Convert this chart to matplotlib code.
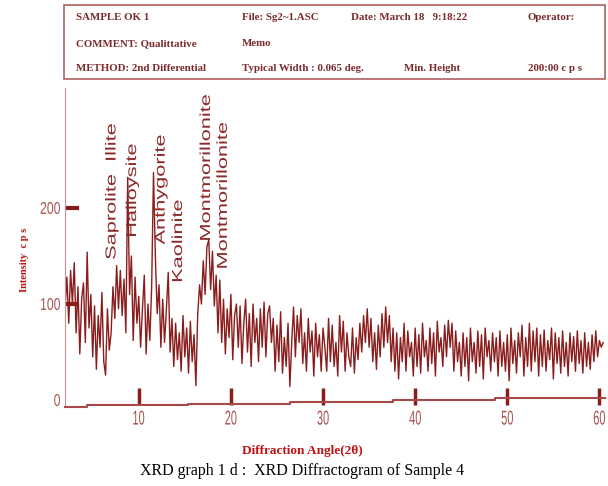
import numpy as np
import matplotlib.pyplot as plt
from matplotlib.patches import Rectangle, PathPatch
from matplotlib.textpath import TextPath
from matplotlib.font_manager import FontProperties
from matplotlib.transforms import Affine2D

# scan angle 2-theta, 0.2 deg steps
angle = np.round(np.arange(2.0, 60.41, 0.2), 1)
intensity = [
    95, 128, 80, 135, 100,   143, 70, 118, 48, 105,
    122, 60, 154, 75, 110,   45, 98, 32, 88, 55,
    112, 40, 26, 95, 52,     70, 118, 85, 140, 95,
    135, 88, 126, 70, 232,   110, 150, 62, 128, 80,
    108, 55, 95, 130, 48,    100, 62, 118, 237, 150,
    90, 120, 55, 105, 60,    95, 133, 50, 85, 35,
    80, 42, 70, 30, 88,      45, 75, 28, 82, 40,
    68, 15, 90, 120, 100,    145, 110, 160, 167, 115,
    155, 98, 130, 70, 125,   60, 105, 48, 95, 65,
    110, 42, 88, 100, 55,    98, 38, 80, 105, 50,
    90, 35, 100, 60, 85,     40, 95, 55, 102, 45,
    90, 98, 60, 85, 30,      78, 40, 92, 28, 65,
    35, 80, 14, 60, 97,      45, 88, 60, 95, 38,
    70, 30, 85, 50, 72,      25, 80, 45, 68, 30,
    75, 55, 30, 85, 40,      78, 35, 60, 25, 88,
    50, 82, 30, 70, 45,      35, 75, 28, 65, 42,
    80, 50, 88, 60, 95,      55, 85, 40, 70, 32,
    78, 45, 90, 55, 97,      60, 88, 40, 75, 30,
    70, 22, 65, 40, 80,      30, 72, 45, 60, 25,
    75, 35, 68, 28, 80,      45, 62, 30, 75, 38,
    70, 25, 82, 50, 65,      35, 78, 45, 83, 55,
    80, 30, 72, 40, 60,      25, 70, 35, 65, 20,
    75, 40, 60, 28, 72,      35, 68, 22, 75, 45,
    62, 30, 70, 40, 65,      25, 72, 35, 60, 30,
    68, 20, 75, 38, 62,      28, 70, 45, 78, 25,
    65, 35, 80, 30, 72,      40, 75, 25, 68, 35,
    73, 30, 62, 42, 75,      22, 70, 38, 65, 28,
    72, 35, 60, 25, 70,      40, 66, 30, 72, 38,
    62, 28, 70, 35, 60,      32, 68, 40, 72, 45,
    62, 55, 60,
]

peak_names = ['Saprolite  Illite', 'Halloysite', 'Anthygorite', 'Kaolinite',
              'Montmorillonite', 'Montmorillonite']
peak_x = [7.07, 9.3, 12.4, 14.13, 17.17, 19.0]
peak_y = [146, 169, 162, 122, 165, 136]

xticks = [10, 20, 30, 40, 50, 60]
yticks = [0, 100, 200]

red = '#8b1c1c'
fig = plt.figure(figsize=(6.08, 4.86), dpi=100)
ax = fig.add_axes([0.107, 0.167, 0.888, 0.652])
ax.plot(angle, intensity, color=red, lw=1.0)
ax.set_xlim(2, 60.6)
ax.set_ylim(-5, 325)

for s in ['top', 'right', 'bottom']:
    ax.spines[s].set_visible(False)
ax.spines['left'].set_color('#c89090')

# slightly slanted, stepped base line as in the scan
base_x = [0, 0.04, 0.04, 0.228, 0.228, 0.417, 0.417, 0.607, 0.607, 0.796, 0.796, 1.0]
base_y = [-0.006, -0.006, 0.0, 0.0, 0.003, 0.003, 0.009, 0.009, 0.014, 0.014, 0.022, 0.022]
ax.plot(base_x, base_y, color='#a84848', lw=1.5, transform=ax.transAxes, clip_on=False)

ax.set_xticks(xticks)
ax.set_yticks(yticks)
ax.tick_params(axis='x', direction='in', length=12, width=2.5, color=red, labelbottom=False)
ax.tick_params(axis='y', direction='in', length=10, width=3, color=red, labelleft=False)
ax.yaxis.get_major_ticks()[0].tick1line.set_visible(False)


def path_text(x, y, s, size, sx, sy, rot, ha, va, color, family='Liberation Sans'):
    # text drawn as a path so it can be squeezed or stretched like the scan
    tp = TextPath((0, 0), s, size=size, prop=FontProperties(family=family))
    bb = tp.get_extents()
    ox = {'left': 0, 'center': (bb.x0 + bb.x1) / 2, 'right': bb.x1}[ha]
    oy = {'bottom': bb.y0, 'center': (bb.y0 + bb.y1) / 2, 'top': bb.y1}[va]
    X, Y = ax.transData.transform((x, y))
    t = Affine2D().translate(-ox, -oy).scale(sx, sy).rotate_deg(rot).translate(X, Y)
    fig.add_artist(PathPatch(tp, transform=t, facecolor=color, lw=0))


for name, px, py in zip(peak_names, peak_x, peak_y):
    path_text(px, py, name, 14.5, 1.5, 1.0, 90, 'left', 'center', '#8b2a2a')

lab_color = '#a85050'
for v in xticks:
    path_text(v, -11, str(v), 20, 0.55, 1.0, 0, 'center', 'top', lab_color)
for v in yticks:
    path_text(1.45, v, str(v), 17, 0.72, 1.0, 0, 'right', 'center', lab_color)

ax.set_ylabel('Intensity  c p s', fontsize=7.5, fontweight='bold',
              color='#c01010', family='Liberation Serif')
ax.yaxis.set_label_coords(-0.066, 0.457)
ax.set_xlabel('Diffraction Angle(2θ)', fontsize=9.5, fontweight='bold',
              color='#c01010', family='Liberation Serif')
ax.xaxis.set_label_coords(0.44, -0.128)

# header box
fig.patches.append(Rectangle((0.105, 0.838), 0.89, 0.152, transform=fig.transFigure,
                             fill=False, edgecolor='#b06060', lw=1.2))
hdr = dict(fontsize=7.8, color='#7a2a2a', family='Liberation Serif',
           fontweight='bold', va='center')
rows = [0.963, 0.910, 0.860]
fig.text(0.125, rows[0], 'SAMPLE OK 1', **hdr)
fig.text(0.398, rows[0], 'File: Sg2~1.ASC', **hdr)
fig.text(0.577, rows[0], 'Date: March 18   9:18:22', **hdr)
fig.text(0.868, rows[0], 'Operator:', **hdr)
fig.text(0.125, rows[1], 'COMMENT: Qualittative', **hdr)
fig.text(0.398, rows[1], 'Memo', **hdr)
fig.text(0.125, rows[2], 'METHOD: 2nd Differential', **hdr)
fig.text(0.398, rows[2], 'Typical Width : 0.065 deg.', **hdr)
fig.text(0.664, rows[2], 'Min. Height', **hdr)
fig.text(0.868, rows[2], '200:00 c p s', **hdr)

fig.text(0.497, 0.03, 'XRD graph 1 d :  XRD Diffractogram of Sample 4',
         ha='center', va='center', fontsize=11.5, family='Liberation Serif')

fig.savefig('out.png', dpi=100)
